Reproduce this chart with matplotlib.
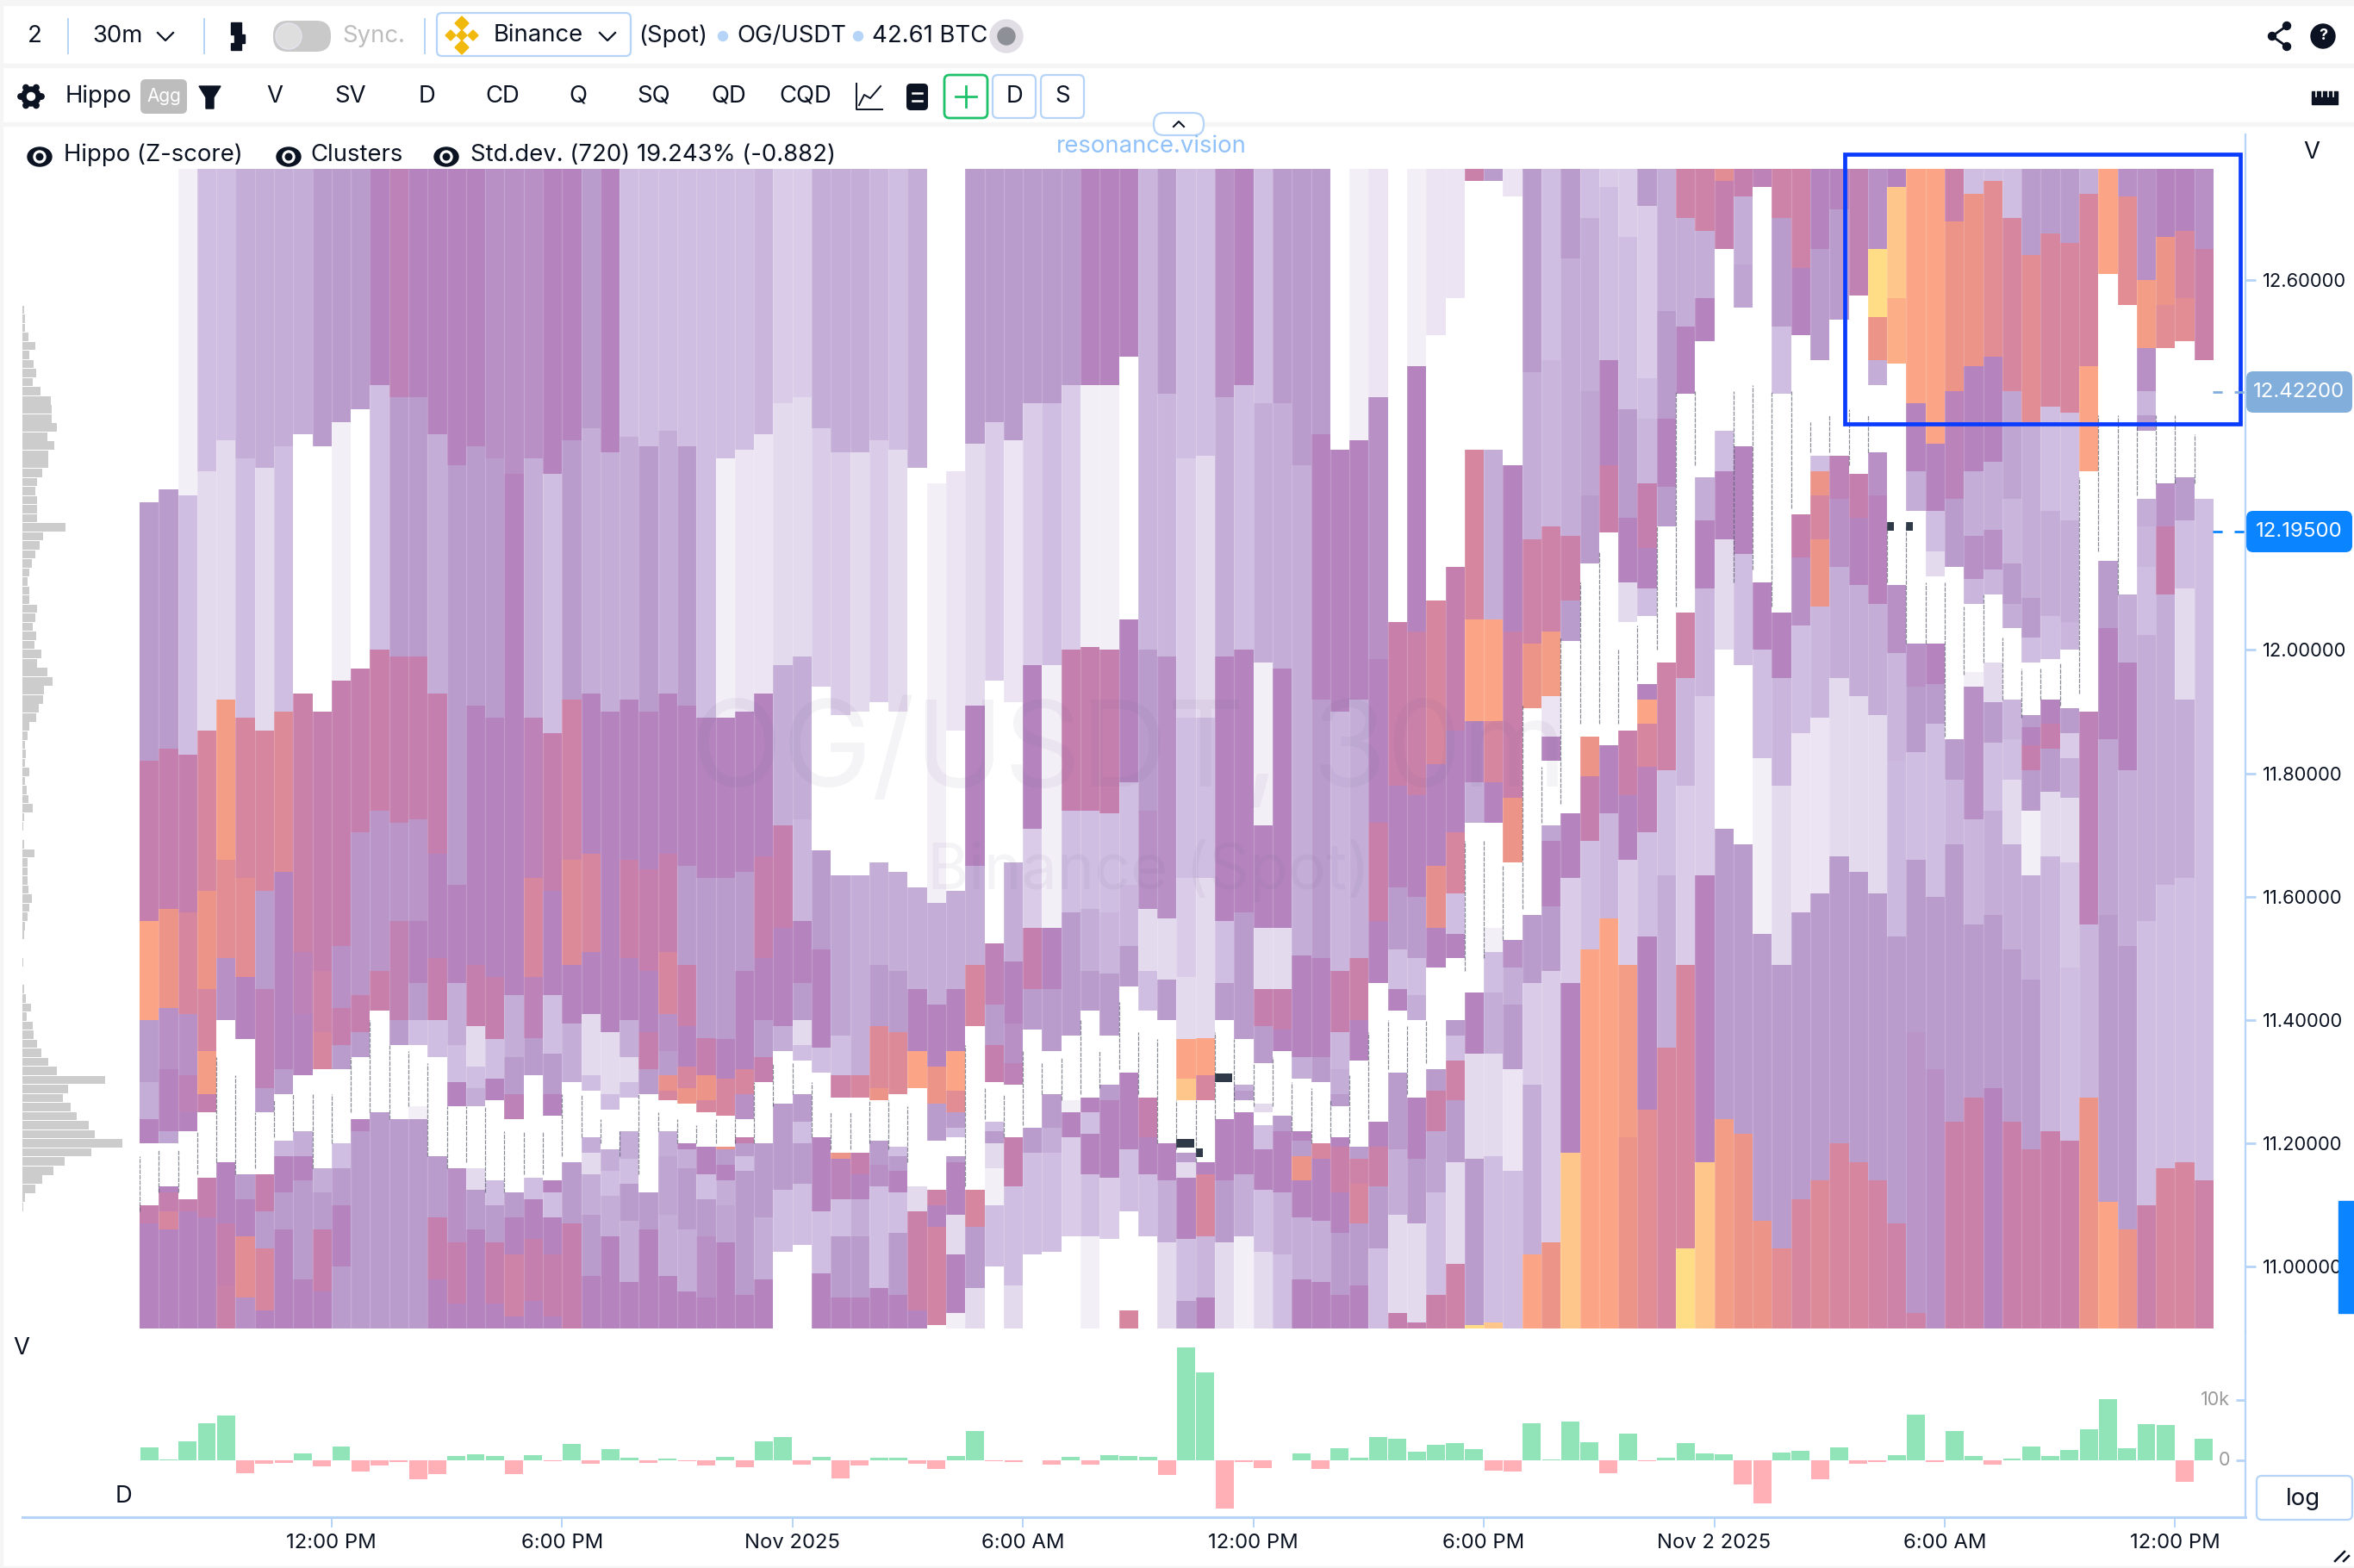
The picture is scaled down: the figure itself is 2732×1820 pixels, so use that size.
#recreate the OG/USDT hippo heatmap screen
import numpy as np
import matplotlib
matplotlib.use('Agg')
import matplotlib.pyplot as plt
from matplotlib.colors import to_rgb
from matplotlib.patches import Rectangle, FancyBboxPatch, Circle, Ellipse, Polygon

plt.rcParams['font.family'] = ['Inter', 'DejaVu Sans']

#colour of each z-score level, white to yellow
level_colors = ['#ffffff', '#f3eff7', '#e4daee', '#d0bee2', '#c4aed8', '#ba9ccc', '#b584bf',
                '#c47fae', '#d6869f', '#ec9488', '#fba586', '#fec68a', '#fedd86']

#each column, top to bottom: (z level, price where that block ends)
hippo_cols = [
    [(0,12.24),(5,11.82),(7,11.56),(10,11.40),(5,11.30),(4,11.24),(6,11.20),(0,11.10),(7,11.07),(6,10.9)],
    [(0,12.26),(5,11.84),(7,11.58),(9,11.42),(5.5,11.32),(6,11.22),(4.5,11.20),(0,11.13),(6,11.12),(7,11.09),(8,11.06),(6,10.9)],
    [(1,12.25),(3,11.83),(7,11.575),(8,11.41),(5.5,11.31),(6.5,11.25),(6,11.22),(0,11.11),(7,11.09),(6,10.9)],
    [(3,12.29),(2,11.87),(8,11.61),(9,11.45),(8,11.35),(9.5,11.28),(7,11.25),(0,11.145),(7,11.08),(6,10.9)],
    [(3,12.34),(2,11.92),(9.5,11.66),(8.5,11.50),(5.5,11.40),(0,11.17),(6,11.07),(7,10.97),(7.3,10.9)],
    [(4,12.31),(3,11.89),(8,11.63),(8.5,11.47),(6,11.37),(0,11.15),(5,11.11),(6,11.05),(8.5,10.95),(5.5,10.9)],
    [(4,12.295),(2,11.87),(8,11.61),(5,11.45),(6.5,11.29),(5,11.25),(0,11.15),(7,11.09),(5,11.03),(8,10.93),(6,10.9)],
    [(4,12.33),(3,11.90),(8.3,11.64),(6,11.32),(5,11.28),(0,11.205),(3.5,11.18),(6,11.12),(5,11.06),(6,10.9)],
    [(4,12.35),(0,11.93),(7.3,11.51),(6.5,11.41),(6,11.31),(0,11.22),(4,11.18),(6,11.14),(5,10.98),(6,10.9)],
    [(5,12.33),(0,11.90),(7,11.48),(7.5,11.38),(8,11.32),(0,11.16),(4,11.12),(5,11.06),(7,10.96),(6,10.9)],
    [(5,12.37),(1,11.95),(7,11.52),(5.5,11.42),(7,11.36),(5,11.32),(0,11.20),(3,11.16),(5,11.10),(6,11.0),(5,10.9)],
    [(5,12.39),(0,11.97),(7,11.705),(5.3,11.44),(7,11.38),(5,11.34),(0,11.24),(6,11.22),(5,10.9)],
    [(6,12.43),(3,12.0),(7.2,11.74),(5.3,11.48),(7.2,11.415),(0,11.25),(5,10.9)],
    [(6.5,12.41),(5,11.99),(7,11.72),(5.3,11.56),(6.7,11.40),(5,11.36),(0,11.24),(5,10.9)],
    [(6,12.41),(5,11.99),(7,11.725),(5.3,11.56),(6,11.46),(5,11.40),(3,11.36),(0,11.26),(1,11.24),(5,10.9)],
    [(6,12.35),(4,11.93),(7,11.67),(6,11.50),(7,11.40),(3,11.34),(0,11.18),(5,11.08),(7,10.98),(6,10.9)],
    [(6,12.30),(5,11.62),(6,11.46),(4,11.36),(3,11.30),(6,11.26),(0,11.16),(5.5,11.04),(7,10.94),(6,10.9)],
    [(6,12.33),(5,11.91),(6,11.49),(7,11.39),(2,11.325),(3,11.29),(4,11.26),(0,11.16),(2,11.125),(5,11.06),(6,10.9)],
    [(5.5,12.31),(5,11.89),(6,11.47),(7,11.37),(3,11.305),(6,11.27),(0,11.14),(3,11.10),(5,11.04),(7,10.94),(6,10.9)],
    [(5.5,12.285),(6,11.44),(4,11.34),(5,11.28),(6.5,11.24),(0,11.12),(5,11.08),(6,11.02),(7.5,10.92),(6,10.9)],
    [(5.5,12.31),(4,11.89),(6.5,11.63),(8,11.47),(6.5,11.37),(5,11.31),(0,11.145),(3,11.11),(6,11.045),(7,10.945),(6,10.9)],
    [(6,12.285),(3,11.865),(7,11.61),(6,11.44),(3,11.345),(5,11.28),(6,11.245),(0,11.14),(6,11.12),(3,11.08),(6,11.02),(7,10.92),(6,10.9)],
    [(6,12.34),(5,11.92),(7.5,11.66),(8.3,11.49),(6,11.395),(4,11.30),(0,11.17),(5,11.13),(5,11.07),(7,10.9)],
    [(5,12.36),(4,11.93),(6,11.67),(8,11.51),(6,11.41),(2,11.31),(3,11.285),(0,11.21),(4,11.185),(2,11.15),(4,11.085),(5,10.985),(6,10.9)],
    [(6,12.32),(4,11.90),(6,11.38),(2,11.28),(3,11.255),(0,11.19),(4,11.155),(3,11.115),(4,11.05),(6,10.9)],
    [(3,12.345),(4,11.92),(6,11.66),(7.2,11.50),(6,11.40),(4,11.34),(2,11.30),(3,11.275),(0,11.22),(4,11.175),(3,11.135),(5,11.075),(4,10.975),(6,10.9)],
    [(3,12.33),(5,11.90),(6,11.645),(7,11.48),(6,11.38),(7,11.32),(5,11.28),(0,11.12),(5,11.06),(6,10.9)],
    [(3,12.355),(4,11.93),(6,11.67),(7,11.51),(8,11.41),(5.5,11.35),(5,11.31),(8.8,11.285),(8,11.27),(0,11.22),(4,11.18),(4.5,11.085),(4,10.985),(6,10.9)],
    [(3,12.33),(5,11.91),(6,11.65),(5,11.49),(7.2,11.39),(6,11.325),(8,11.29),(9,11.265),(0,11.20),(6,11.19),(4,11.16),(5,11.06),(4,10.96),(6,10.9)],
    [(3,12.315),(3,11.89),(6,11.63),(5,11.47),(5,11.37),(7,11.31),(9,11.27),(8,11.25),(0,11.195),(6,11.15),(3,11.11),(5,11.05),(5.5,10.95),(6,10.9)],
    [(3,12.31),(1,11.89),(6,11.63),(5,11.37),(6,11.305),(8,11.245),(0,11.195),(9,11.19),(5,11.165),(6,11.14),(4,11.10),(4.5,11.04),(6,10.9)],
    [(3,12.325),(1.5,11.90),(6,11.64),(5,11.48),(6,11.32),(8,11.28),(5.5,11.24),(0,11.21),(7,11.20),(5,11.18),(3,11.155),(5,11.12),(5,10.955),(6,10.9)],
    [(3.5,12.35),(1.5,11.93),(6,11.665),(7,11.50),(6,11.40),(5,11.34),(7,11.30),(0,11.20),(5,11.08),(4,10.98),(6,10.9)],
    [(2.5,12.40),(2,11.975),(4,11.715),(7,11.55),(6,11.39),(4,11.35),(0,11.265),(5,11.125),(3,11.025),(0,10.9)],
    [(2.5,12.41),(2,11.99),(4,11.725),(3.5,11.56),(6,11.46),(5,11.40),(2,11.36),(3,11.335),(0,11.28),(5,11.235),(3,11.20),(5,11.135),(3,11.035),(0,10.9)],
    [(4,12.36),(2.5,11.94),(0,11.675),(5,11.515),(6,11.355),(3,11.315),(0,11.21),(6,11.09),(3,10.99),(6,10.9)],
    [(4,12.32),(2.5,11.895),(0,11.635),(4.5,11.375),(3,11.31),(7.5,11.275),(0,11.185),(9,11.175),(6.3,11.11),(3,11.05),(5,10.95),(6,10.9)],
    [(4,12.32),(2,11.90),(0,11.635),(4,11.375),(4,11.31),(8,11.275),(0,11.185),(7,11.15),(6,11.11),(4,11.05),(5,10.95),(6,10.9)],
    [(3.5,12.34),(2.5,11.915),(0,11.655),(4,11.49),(5,11.39),(8.3,11.29),(9,11.27),(0,11.205),(5,11.165),(5.5,11.13),(3,10.965),(6,10.9)],
    [(3,12.325),(2,11.90),(0,11.64),(4,11.48),(5,11.38),(8.3,11.28),(0,11.195),(3,11.18),(5,11.155),(6,11.12),(3,11.055),(5,10.955),(6,10.9)],
    [(4,12.295),(0,11.615),(4,11.45),(6,11.35),(10,11.29),(0,11.13),(2,11.09),(7.3,10.93),(6,10.9)],
    [(0,12.27),(1,11.59),(4,11.425),(6,11.325),(9,11.265),(5,11.23),(5,11.205),(0,11.125),(7.5,11.10),(6,11.065),(7.7,10.905),(0,10.9)],
    [(0,12.29),(1.5,11.87),(0,11.61),(4,11.45),(6,11.35),(10,11.285),(8.5,11.25),(5,11.225),(3,11.21),(0,11.18),(5,11.17),(6,11.085),(2,11.02),(6,10.925),(1,10.9)],
    [(5,12.335),(2,11.91),(6,11.65),(4,11.49),(8,11.39),(0,11.125),(8,11.065),(5,10.965),(2,10.9)],
    [(5,12.37),(2.5,11.95),(0,11.525),(6.5,11.425),(5,11.36),(7,11.30),(0,11.235),(3,11.22),(5,11.20),(2,11.16),(1,11.10),(3,11.0),(0,10.9)],
    [(5,12.34),(1.5,11.915),(0,11.655),(4,11.495),(6,11.395),(5.5,11.33),(6.5,11.295),(0,11.21),(7,11.13),(3,10.97),(2,10.9)],
    [(5,12.40),(2.5,11.975),(6,11.71),(2.5,11.55),(7,11.45),(5,11.385),(0,11.225),(5,11.185),(3,11.02),(0,10.9)],
    [(5,12.40),(3,11.975),(1,11.55),(6,11.45),(5,11.35),(0,11.28),(5,11.225),(4,11.185),(3,11.025),(0,10.9)],
    [(5,12.43),(2.5,12.0),(7,11.74),(3,11.575),(5,11.375),(0,11.27),(1,11.25),(6,11.21),(2.5,11.05),(0,10.9)],
    [(6,12.43),(1,12.005),(7,11.74),(3,11.58),(4,11.48),(5,11.415),(0,11.275),(6,11.25),(3,11.215),(6,11.15),(3,11.05),(1,10.9)],
    [(6,12.43),(1,12.0),(7,11.735),(3,11.575),(3.5,11.475),(5,11.375),(0,11.295),(5,11.27),(6,11.145),(2.5,11.045),(0,10.9)],
    [(6,12.475),(0,12.05),(6,11.785),(3,11.62),(3.5,11.52),(5,11.455),(0,11.315),(6,11.19),(3,11.09),(0,10.93),(8,10.9)],
    [(3.5,12.0),(5,11.74),(5.5,11.58),(2,11.48),(3,11.415),(0,11.275),(7,11.21),(6,11.15),(3,11.05),(0,10.9)],
    [(5,12.415),(3.5,11.99),(5.5,11.565),(2,11.465),(5,11.40),(0,11.20),(6,11.14),(4,11.04),(2,10.9)],
    [(3,12.31),(2.5,11.89),(3,11.63),(2.5,11.47),(2,11.37),(10,11.305),(11,11.27),(0,11.185),(5,11.17),(2,11.145),(6,11.045),(3,10.945),(5,10.9)],
    [(3,12.315),(2,11.89),(3,11.63),(2,11.47),(2,11.37),(10,11.31),(8,11.27),(0,11.17),(6,11.15),(8,11.05),(3.5,10.95),(6,10.9)],
    [(5.5,12.41),(4,11.99),(6,11.56),(3,11.46),(5,11.40),(0,11.24),(6,11.14),(5,11.04),(2,10.9)],
    [(6,12.43),(3,12.0),(6,11.575),(5,11.37),(0,11.295),(4,11.285),(5,11.27),(0,11.25),(6,11.15),(4,11.05),(1,10.9)],
    [(3,12.40),(4,11.98),(1,11.715),(6,11.55),(2,11.45),(7,11.39),(5,11.33),(0,11.265),(2,11.25),(0,11.23),(3,11.19),(6,11.125),(3,11.025),(2,10.9)],
    [(5,12.40),(4,11.97),(6,11.55),(2,11.45),(7,11.385),(6,11.35),(0,11.245),(5,11.22),(6,11.12),(4,11.02),(3,10.9)],
    [(5,12.30),(4,11.505),(6,11.34),(4,11.305),(0,11.22),(6,11.205),(5,11.18),(9,11.14),(6,11.08),(4,10.98),(6,10.9)],
    [(5,12.35),(6,11.92),(5,11.50),(6,11.34),(5,11.30),(0,11.20),(8,11.175),(6,11.075),(4,10.975),(6,10.9)],
    [(0,12.325),(6,11.90),(3.5,11.48),(7,11.38),(3.5,11.32),(4,11.28),(5,11.26),(0,11.21),(6,11.195),(7.2,11.12),(6,11.055),(5,10.955),(6,10.9)],
    [(1,12.34),(6,11.92),(4,11.50),(7.3,11.40),(6,11.335),(0,11.195),(5,11.175),(7.5,11.135),(8,11.07),(5,10.97),(6,10.9)],
    [(1.5,12.41),(5.5,11.985),(6,11.72),(7.2,11.56),(6,11.46),(0,11.235),(6,11.195),(7.3,11.13),(5,11.03),(3,10.9)],
    [(0,12.045),(7.2,11.78),(6,11.615),(5,11.515),(3,11.45),(6,11.415),(0,11.315),(5,11.19),(4,11.085),(2,10.925),(7,10.9)],
    [(1,12.46),(6,12.03),(7.3,11.765),(6,11.60),(5,11.50),(3,11.44),(4,11.40),(0,11.275),(6,11.175),(5,11.07),(2,10.91),(7,10.9)],
    [(1.5,12.51),(0,12.08),(8,11.815),(6,11.65),(8.7,11.55),(6,11.485),(0,11.32),(5,11.285),(7.3,11.22),(4.5,11.12),(3,10.955),(7.3,10.9)],
    [(1.5,12.57),(0,12.135),(7,11.87),(6,11.705),(8,11.605),(3,11.54),(6,11.50),(0,11.40),(5,11.375),(3,11.335),(7.5,11.27),(5,11.17),(2,11.005),(7.5,10.9)],
    [(7.3,12.76),(0,12.325),(8,12.05),(10,11.885),(6,11.785),(4,11.72),(0,11.445),(6,11.345),(2,11.175),(5,10.905),(12,10.9)],
    [(5,12.76),(0,12.325),(4,12.05),(10,11.885),(8,11.785),(6,11.72),(0,11.55),(1,11.51),(3,11.445),(4,11.345),(2,11.18),(3,10.91),(11,10.9)],
    [(1.5,12.735),(0,12.30),(6,12.03),(7.2,11.76),(9,11.655),(0,11.53),(5.5,11.485),(4,11.425),(5,11.32),(1.5,11.155),(3,10.9)],
    [(5,12.45),(4,12.18),(7.5,12.01),(9,11.905),(0,11.57),(5,11.46),(2.5,11.295),(4,11.02),(10,10.9)],
    [(3,12.47),(3.5,12.20),(7.5,12.03),(9.5,11.925),(1.5,11.86),(6,11.82),(0,11.715),(4.5,11.69),(6,11.585),(5,11.48),(2.5,11.04),(9,10.9)],
    [(5,12.635),(4,12.185),(7.3,12.08),(5,12.015),(0,11.735),(6,11.63),(2.5,11.46),(6,11.185),(11,10.9)],
    [(3,12.70),(4,12.42),(4.5,12.25),(5,12.14),(0,11.86),(9,11.795),(7,11.69),(3,11.515),(10,10.9)],
    [(2.5,12.75),(3,12.47),(6,12.30),(7.2,12.19),(0,11.845),(6,11.735),(3.5,11.565),(10,10.9)],
    [(2.5,12.67),(3,12.39),(5,12.215),(6,12.11),(2,12.045),(0,11.87),(7.2,11.765),(6,11.66),(2.5,11.49),(9.5,11.21),(9,10.9)],
    [(5,12.72),(2.5,12.44),(3,12.375),(3.5,12.27),(7,12.165),(6,12.10),(3,12.055),(0,11.945),(6,11.92),(10,11.88),(8,11.81),(6.5,11.705),(3,11.535),(6,11.255),(8.5,10.9)],
    [(4,12.55),(5,12.375),(6,12.265),(5,12.20),(0,11.98),(7.5,11.805),(3,11.635),(4,11.355),(8,10.9)],
    [(7.5,12.70),(4,12.525),(6,12.415),(0,12.06),(7.5,11.955),(3.5,11.78),(2.5,11.49),(8,11.03),(12,10.9)],
    [(7.5,12.68),(4,12.57),(6,12.50),(0,12.28),(4,12.21),(6,12.10),(3.5,11.925),(2.5,11.635),(6.2,11.17),(11,10.9)],
    [(8.5,12.76),(7,12.65),(0,12.355),(3,12.29),(6,12.18),(2,12.0),(0,11.71),(5,11.24),(9.5,10.9)],
    [(7,12.735),(4,12.625),(4.5,12.555),(0,12.33),(6,12.155),(3,11.975),(0,11.685),(5,11.215),(9,10.9)],
    [(6.5,12.75),(0,12.11),(6,12.0),(3,11.825),(1,11.54),(5,11.075),(9,10.9)],
    [(7.5,12.70),(5,12.525),(3,12.415),(0,12.06),(6,11.955),(3.5,11.78),(2,11.49),(5,11.03),(8.5,10.9)],
    [(7.5,12.62),(6,12.51),(0,12.22),(7,12.15),(5.5,12.04),(3,11.865),(1.5,11.575),(5,11.11),(8,10.9)],
    [(6,12.65),(5,12.47),(0,12.315),(3,12.29),(9,12.25),(8,12.18),(9,12.07),(3.5,11.89),(1.5,11.605),(5,11.14),(8.3,10.9)],
    [(6,12.715),(5,12.535),(0,12.315),(6.5,12.245),(5.5,12.135),(4,11.955),(2,11.665),(5,11.20),(8,10.9)],
    [(6.7,12.575),(0,12.285),(7,12.215),(6,12.105),(4,11.925),(2,11.64),(5,11.17),(8,10.9)],
    [(5.5,12.65),(12,12.54),(9,12.47),(4,12.43),(0,12.32),(5.5,12.25),(6.2,12.075),(4,11.895),(2,11.605),(5,11.14),(7.7,10.9)],
    [(6,12.75),(11,12.57),(10.3,12.465),(0,12.105),(5.5,11.995),(3.5,11.82),(3.3,11.535),(5,11.07),(7.5,10.9)],
    [(10,12.40),(6,12.29),(4,12.225),(0,12.01),(5.5,11.94),(5,11.835),(3,11.66),(5,11.38),(5.3,10.925),(7.5,10.9)],
    [(10,12.335),(6,12.225),(3,12.16),(2,12.12),(0,12.01),(6,11.945),(5,11.88),(3,11.60),(5,11.32),(5.5,10.9)],
    [(7.3,12.695),(9,12.42),(6.3,12.245),(5,12.135),(0,11.855),(5,11.79),(3.5,11.685),(5,11.515),(5,11.235),(7.3,10.9)],
    [(3,12.74),(9,12.46),(6,12.29),(4,12.185),(5.5,12.115),(3.5,12.075),(0,11.965),(1,11.94),(5.5,11.725),(3.5,11.555),(5,11.275),(7.3,10.9)],
    [(3,12.76),(8.5,12.475),(6,12.305),(4,12.195),(5.5,12.13),(3.5,12.09),(0,11.98),(2,11.915),(5,11.85),(3,11.74),(4,11.57),(5,11.29),(6,10.9)],
    [(3,12.70),(8,12.42),(4.5,12.245),(3.5,12.14),(5,12.075),(4,12.035),(0,11.92),(3.5,11.855),(3,11.79),(2,11.685),(4,11.515),(5,11.235),(7.2,10.9)],
    [(5,12.64),(8.5,12.37),(4,12.085),(5,12.02),(3,11.98),(0,11.895),(5,11.875),(6,11.845),(7,11.805),(5,11.74),(1,11.635),(4,11.465),(5,11.19),(7.3,10.9)],
    [(5,12.675),(8,12.395),(3,12.225),(4,12.055),(3,11.985),(0,11.92),(6,11.88),(7,11.84),(5,11.77),(2,11.665),(3.5,11.22),(7.2,10.9)],
    [(5,12.66),(8,12.385),(3,12.21),(4,12.045),(3.5,12.0),(0,11.905),(5,11.865),(2.5,11.825),(4,11.76),(2,11.655),(2.7,11.485),(3,11.205),(7.2,10.9)],
    [(4,12.74),(8,12.46),(10,12.29),(0,11.90),(6.5,11.555),(3.5,11.275),(9,10.9)],
    [(10,12.61),(0,12.145),(5,12.035),(6,11.855),(4.5,11.57),(5,11.105),(10,10.9)],
    [(5.5,12.735),(8.5,12.56),(0,12.09),(4,11.98),(6,11.805),(4,11.52),(5,11.06),(9,10.9)],
    [(5.5,12.60),(9.5,12.49),(5.5,12.42),(3.5,12.38),(5,12.355),(0,12.245),(4,12.20),(3.5,12.135),(3,12.025),(4,11.56),(3,11.10),(7.3,10.9)],
    [(6,12.67),(9,12.56),(8.5,12.49),(0,12.27),(5.5,12.20),(7,12.09),(4,11.62),(3,11.16),(8,10.9)],
    [(6,12.68),(8,12.57),(8.5,12.50),(0,12.28),(5,12.21),(3,12.10),(2,11.92),(4,11.63),(3,11.17),(8,10.9)],
    [(5.5,12.65),(7.3,12.47),(0,12.245),(3,11.14),(7.5,10.9)],
]

#candle wicks: column, high, low
wick_cols = [0,1,2,3,4,5,6,7,8,9,10,11,12,13,14,15,16,17,18,19,20,21,22,23,24,25,26,27,28,29,30,31,32,33,34,35,36,37,38,39,40,
             43,44,45,46,47,48,49,50,51,52,53,54,55,56,57,58,59,60,61,62,63,64,65,66,67,69,70,71,72,73,74,75,76,77,78,79,
             80,81,83,84,85,86,87,88,89,90,91,92,93,94,95,96,97,98,99,100,101,102,103,104,105,106,107]
wick_high = [11.18,11.19,11.19,11.22,11.34,11.31,11.25,11.27,11.28,11.28,11.28,11.34,11.40,11.36,11.35,11.33,11.26,11.26,11.26,11.22,11.22,11.22,11.28,11.28,
             11.24,11.22,11.28,11.25,11.24,11.23,11.24,11.24,11.30,11.33,11.33,11.30,11.25,11.25,11.27,11.27,11.26,
             11.36,11.29,11.28,11.35,11.33,11.34,11.40,11.35,11.43,11.38,11.37,11.27,11.27,11.38,11.37,11.33,11.34,11.30,11.29,11.27,11.31,11.38,11.40,11.39,11.40,
             11.69,11.69,11.65,11.91,11.81,12.02,12.11,12.16,12.0,12.04,12.20,12.42,12.42,12.42,12.43,12.42,12.42,12.37,12.38,12.39,12.38,12.20,12.20,12.11,12.11,12.07,12.09,12.02,11.97,11.97,11.98,12.28,12.38,12.38,12.37,12.38,12.38,12.35]
wick_low = [11.09,11.12,11.12,11.15,11.17,11.15,11.16,11.21,11.22,11.16,11.20,11.25,11.25,11.24,11.26,11.18,11.16,11.17,11.12,11.12,11.15,11.15,11.18,11.21,
            11.20,11.18,11.15,11.22,11.20,11.20,11.20,11.20,11.20,11.26,11.28,11.21,11.19,11.19,11.20,11.19,11.17,
            11.13,11.24,11.21,11.23,11.28,11.27,11.28,11.29,11.32,11.28,11.20,11.19,11.17,11.24,11.25,11.26,11.26,11.22,11.20,11.21,11.20,11.24,11.32,11.28,11.33,
            11.48,11.50,11.53,11.58,11.72,11.75,11.88,11.88,11.88,11.95,12.0,12.07,12.30,12.11,12.13,12.07,12.23,12.32,12.32,12.30,12.32,12.11,12.01,12.01,11.86,11.96,11.98,11.92,11.89,11.92,11.91,11.93,12.16,12.09,12.25,12.27,12.27,12.27]

#dark cluster marks: column, price
cluster_cols = [54, 55, 56, 91, 92]
cluster_price = [11.20, 11.185, 11.307, 12.20, 12.20]
cluster_width = [0.9, 0.35, 0.9, 0.35, 0.35]

#volume profile on the left, highest price first
profile_top = 12.581
profile_step = 0.01469
profile_vol = [1,1,5,7,7,15,34,17,29,36,27,47,75,76,76,90,65,83,67,67,52,38,33,38,39,37,112,54,45,34,24,18,14,18,19,39,34,26,35,32,50,38,66,79,56,54,43,36,19,13,6,8,
               7,18,6,11,16,26,5,3,1,4,32,14,13,14,16,25,19,14,6,5,1,1,2,1,1,4,10,23,12,27,29,39,49,67,90,215,119,106,125,140,173,188,260,179,109,81,51,34,6,2]

#D bars under the heatmap, in thousands
delta_vals = [2.2,0.1,3.2,6.1,7.4,-2.2,-0.6,-0.4,1.2,-1.05,2.3,-1.9,-0.9,-0.33,-3.1,-2.3,0.67,0.95,0.7,-2.3,0.9,-0.14,2.7,-0.6,1.9,0.38,-0.48,0.24,-0.14,-0.9,0.57,-1.2,3.2,3.8,-0.7,0.52,-3.0,-0.8,0.43,0.38,-0.57,-1.4,0.67,4.9,-0.19,-0.24,0.05,-0.76,0.57,-0.67,0.9,0.67,0.57,-2.5,18.7,14.6,
              -8.0,-0.33,-1.33,-0.05,1.2,-1.5,1.95,0.38,3.8,3.6,1.4,2.6,2.9,1.9,-1.67,-1.8,6.2,0.2,6.4,2.95,-2.1,4.4,-0.14,0.48,2.9,1.2,1.0,-4.0,-7.2,1.33,1.5,-3.2,2.1,-0.62,-0.24,0.8,7.6,-0.29,4.8,0.67,-0.7,0.33,2.3,0.7,1.7,5.2,10.1,2.05,6.05,5.9,-3.6,3.5]

price_ticks = [12.6, 12.4, 12.2, 12.0, 11.8, 11.6, 11.4, 11.2, 11.0]
price_labels = ['12.60000', '', '', '12.00000', '11.80000', '11.60000', '11.40000', '11.20000', '11.00000']
time_ticks = [10, 22, 34, 46, 58, 70, 82, 94, 106]
time_labels = ['12:00 PM', '6:00 PM', 'Nov 2025', '6:00 AM', '12:00 PM', '6:00 PM', 'Nov 2 2025', '6:00 AM', '12:00 PM']

W, H = 2732, 1820
INK = '#0b1221'
BLUE_LINE = '#b5d4f7'
UI_SIZE = 19.8

#axes rectangle from pixel box
def pixel_axes(fig, x0, y0, x1, y1):
    return fig.add_axes([x0/W, 1 - y1/H, (x1 - x0)/W, (y1 - y0)/H])

def level_rgb(level):
    low = int(level)
    high = min(low + 1, len(level_colors) - 1)
    t = level - low
    c0 = np.array(to_rgb(level_colors[low]))
    c1 = np.array(to_rgb(level_colors[high]))
    return tuple(c0*(1 - t) + c1*t)

fig = plt.figure(figsize=(W/100, H/100), dpi=100, facecolor='white')

#heatmap
ax = pixel_axes(fig, 162, 196, 2606, 1542)
x_right = (2606 - 162)/22.287
bar_x, bar_bottom, bar_height, bar_color = [], [], [], []
for i, col in enumerate(hippo_cols):
    upper = 12.78
    for level, lower in col:
        if level > 0:
            bar_x.append(i)
            bar_bottom.append(lower)
            bar_height.append(upper - lower)
            bar_color.append(level_rgb(level))
        upper = lower
ax.bar(bar_x, bar_height, bottom=bar_bottom, width=1.0, align='edge', color=bar_color, linewidth=0)
ax.vlines(range(1, len(hippo_cols)), 10.9, 12.78, color='white', alpha=0.18, lw=0.9)
ax.vlines(wick_cols, wick_low, wick_high, color='#3a4352', lw=0.9, linestyles=(0, (4, 1)), alpha=0.6)
ax.barh(cluster_price, cluster_width, height=0.014, left=cluster_cols, color='#2f3947', linewidth=0)
ax.set_xlim(0, x_right)
ax.set_ylim(10.9, 12.78)
ax.set_xticks([])
ax.yaxis.tick_right()
ax.set_yticks([t for t, s in zip(price_ticks, price_labels) if s])
ax.set_yticklabels([s for s in price_labels if s], fontsize=15.8, color=INK)
ax.tick_params(axis='y', length=8.5, width=2, color=BLUE_LINE, pad=6)
for s in ax.spines.values():
    s.set_visible(False)
ax.text(0.47, 0.495, 'OG/USDT, 30m', transform=ax.transAxes, fontsize=100, color='#6a5a8a', alpha=0.07,
        ha='center', va='center', zorder=6)
ax.text(0.479, 0.395, 'Binance (Spot)', transform=ax.transAxes, fontsize=53, color='#6a5a8a', alpha=0.07,
        ha='center', va='center', zorder=6)

#volume profile
ax_prof = pixel_axes(fig, 26, 196, 162, 1542)
prof_y = profile_top - profile_step*np.arange(len(profile_vol))
ax_prof.barh(prof_y, profile_vol, height=profile_step*0.92, color='#cccccc', linewidth=0)
ax_prof.set_xlim(0, 136*2.24)
ax_prof.set_ylim(10.9, 12.78)
ax_prof.axis('off')

#D pane
ax_d = pixel_axes(fig, 162, 1545, 2606, 1761)
d_colors = ['#90e4b8' if v >= 0 else '#ffb0b6' for v in delta_vals]
ax_d.bar(np.arange(len(delta_vals)) + 0.5, delta_vals, width=0.94, color=d_colors, linewidth=0)
ax_d.set_xlim(0, x_right)
ax_d.set_ylim(-9.43, 21.43)
ax_d.set_xticks(time_ticks)
ax_d.set_xticklabels(time_labels, fontsize=17.2, color=INK)
ax_d.tick_params(axis='x', length=8.5, width=1.4, color=BLUE_LINE, pad=5)
ax_d.yaxis.tick_right()
ax_d.set_yticks([0, 10])
ax_d.set_yticklabels([])
ax_d.tick_params(axis='y', direction='in', length=8, width=2, color=BLUE_LINE)
for name in ['top', 'left']:
    ax_d.spines[name].set_visible(False)
ax_d.spines['bottom'].set_color(BLUE_LINE)
ax_d.spines['bottom'].set_linewidth(2.2)
ax_d.spines['right'].set_color(BLUE_LINE)
ax_d.spines['right'].set_linewidth(1.6)
ax_d.text(108.85, 10, '10k', fontsize=15.5, color='#9a9a9a', ha='right', va='center')
ax_d.text(108.85, 0, '0', fontsize=15.5, color='#9a9a9a', ha='right', va='center')

#screen furniture drawn in pixel coordinates
ui = fig.add_axes([0, 0, 1, 1], zorder=5)
ui.set_xlim(0, W)
ui.set_ylim(H, 0)
ui.axis('off')
ui.patch.set_alpha(0)

def label(x, y, s, size=UI_SIZE, color=INK, ha='left', **kw):
    ui.text(x, y + 2, s, fontsize=size, color=color, ha=ha, va='center', **kw)

def box(x0, y0, x1, y1, edge=BLUE_LINE, face='white', lw=1.6, rad=6):
    ui.add_patch(FancyBboxPatch((x0 + rad, y0 + rad), x1 - x0 - 2*rad, y1 - y0 - 2*rad,
                                boxstyle='round,pad=%d,rounding_size=%d' % (rad, rad),
                                edgecolor=edge, facecolor=face, lw=lw))

def eye(x, y):
    ui.add_patch(Ellipse((x, y), 28, 22, color=INK))
    ui.add_patch(Circle((x, y), 7, color='white'))
    ui.add_patch(Circle((x, y), 3.8, color=INK))

def chevron(x, y):
    ui.plot([x - 9, x, x + 9], [y - 4, y + 5, y - 4], color=INK, lw=1.6)

#page bands
ui.add_patch(Rectangle((0, 0), W, 6, color='#f5f5f5'))
ui.add_patch(Rectangle((0, 74), W, 4, color='#f5f5f5'))
ui.add_patch(Rectangle((0, 142), W, 4, color='#f5f5f5'))
ui.add_patch(Rectangle((0, 0), 3, H, color='#f5f5f5'))
ui.add_patch(Rectangle((0, 1818), W, 2, color='#f5f5f5'))

#first toolbar row
label(40, 40, '2', ha='center')
ui.plot([79, 79], [22, 62], color=BLUE_LINE, lw=1.4)
label(107, 40, '30m')
chevron(192, 42)
ui.plot([237, 237], [22, 62], color=BLUE_LINE, lw=1.4)
ui.add_patch(Rectangle((268, 26), 12, 14, color=INK))
ui.add_patch(Rectangle((272, 40), 12, 10, color=INK))
ui.add_patch(Rectangle((268, 50), 12, 8, color=INK))
box(317, 24, 384, 60, edge='#d9d9d9', face='#c9c9c9', lw=0, rad=17)
ui.add_patch(Circle((335, 42), 15, facecolor='#dedede', edgecolor='#e7e2ef', lw=1))
label(397, 40, 'Sync.', color='#bdbdbd')
ui.plot([493, 493], [22, 62], color=BLUE_LINE, lw=1.4)
box(507, 15, 732, 65)
for dx, dy, r in [(0, -14, 8), (-13, 0, 6), (13, 0, 6), (0, 14, 8), (0, 0, 6)]:
    ui.add_patch(Polygon([(536 + dx, 41 + dy - r), (536 + dx + r, 41 + dy), (536 + dx, 41 + dy + r), (536 + dx - r, 41 + dy)],
                         color='#f0b90b'))
label(573, 39, 'Binance')
chevron(705, 42)
label(741, 40, '(Spot)')
ui.add_patch(Circle((839, 42), 5.5, color=BLUE_LINE))
label(855, 40, 'OG/USDT')
ui.add_patch(Circle((996, 42), 5.5, color=BLUE_LINE))
label(1012, 40, '42.61 BTC')
ui.add_patch(Circle((1168, 42), 19, color='#e2dee6'))
ui.add_patch(Circle((1168, 42), 10, color='#8e9098'))
#share and help
ui.plot([2654, 2637, 2654], [30, 42, 54], color=INK, lw=2.0)
for px_, py_ in [(2654, 30), (2637, 42), (2654, 54)]:
    ui.add_patch(Circle((px_, py_), 4.5, color=INK))
ui.add_patch(Circle((2696, 42), 14, color=INK))
ui.text(2696, 42, '?', fontsize=13, color='white', ha='center', va='center', fontweight='bold')

#second toolbar row
ui.add_patch(Circle((36, 112), 11, color=INK))
ui.add_patch(Circle((36, 112), 4.5, color='white'))
for a in np.arange(0, 360, 60):
    ui.add_patch(Circle((36 + 12*np.cos(np.radians(a)), 112 + 12*np.sin(np.radians(a))), 3.2, color=INK))
label(76, 110, 'Hippo')
box(163, 92, 217, 132, edge='#bdbdbd', face='#bdbdbd', lw=0, rad=6)
label(190, 110, 'Agg', size=15, color='white', ha='center')
ui.add_patch(Polygon([(231, 100), (256, 100), (248, 113), (248, 126), (239, 126), (239, 113)], color=INK))
for x, s in zip([319, 407, 495, 583, 671, 759, 846, 935], ['V', 'SV', 'D', 'CD', 'Q', 'SQ', 'QD', 'CQD']):
    label(x, 110, s, ha='center')
ui.plot([994, 994, 1024], [97, 127, 127], color=INK, lw=1.4)
ui.plot([997, 1003, 1010, 1022], [122, 110, 114, 100], color=INK, lw=1.4)
box(1052, 97, 1077, 128, edge=INK, face=INK, lw=0, rad=5)
ui.plot([1059, 1070], [108, 108], color='white', lw=1.8)
ui.plot([1059, 1070], [117, 117], color='white', lw=1.8)
box(1096, 87, 1146, 137, edge='#1fc16b', lw=2)
ui.plot([1121, 1121], [100, 124], color='#1fc16b', lw=2)
ui.plot([1109, 1133], [112, 112], color='#1fc16b', lw=2)
box(1152, 87, 1202, 137)
label(1177, 110, 'D', ha='center')
box(1208, 87, 1258, 137)
label(1233, 110, 'S', ha='center')
ui.add_patch(Rectangle((2683, 106), 30, 15, color=INK))
for x in [2688, 2695, 2702, 2708]:
    ui.plot([x, x], [105, 112], color='white', lw=1.2)

#collapse button and legend row
box(1339, 131, 1397, 157, rad=12)
ui.plot([1362, 1368, 1374], [147, 141, 147], color=INK, lw=1.5)
eye(46, 182)
label(74, 178, 'Hippo (Z-score)')
eye(335, 182)
label(360, 178, 'Clusters')
eye(518, 182)
label(546, 178, 'Std.dev. (720) 19.243% (-0.882)')
label(1226, 168, 'resonance.vision', color='#90c2f9')

#right axis furniture
ui.plot([2606, 2606], [156, 1545], color=BLUE_LINE, lw=1.6)
label(2683, 175, 'V', ha='center')
ui.plot([2568, 2606], [455, 455], color='#82aedb', lw=2, linestyle=(0, (4, 5)))
box(2607, 431, 2730, 479, edge='#82aedb', face='#82aedb', lw=0, rad=8)
ui.text(2668, 455, '12.42200', fontsize=17.3, color='white', ha='center', va='center')
ui.plot([2568, 2606], [617, 617], color='#0a84ff', lw=2, linestyle=(0, (4, 5)))
box(2607, 593, 2730, 641, edge='#0a84ff', face='#0a84ff', lw=0, rad=8)
ui.text(2668, 617, '12.19500', fontsize=17.3, color='white', ha='center', va='center')
ui.add_patch(Rectangle((2714, 1394), 20, 130, color='#0a84ff'))

#selection box
ui.add_patch(Rectangle((2141, 179), 459, 313, fill=False, edgecolor='#0a3cff', lw=3.4))

#D pane furniture
label(25, 1563, 'V', ha='center')
label(143, 1735, 'D', ha='center')
ui.plot([26, 162], [1761, 1761], color=BLUE_LINE, lw=2.2)
box(2619, 1713, 2730, 1764)
label(2673, 1738, 'log', ha='center')
ui.plot([2710, 2721], [1812, 1801], color=INK, lw=1.8)
ui.plot([2720, 2726], [1812, 1806], color=INK, lw=1.8)

fig.savefig('out.png', dpi=100)
